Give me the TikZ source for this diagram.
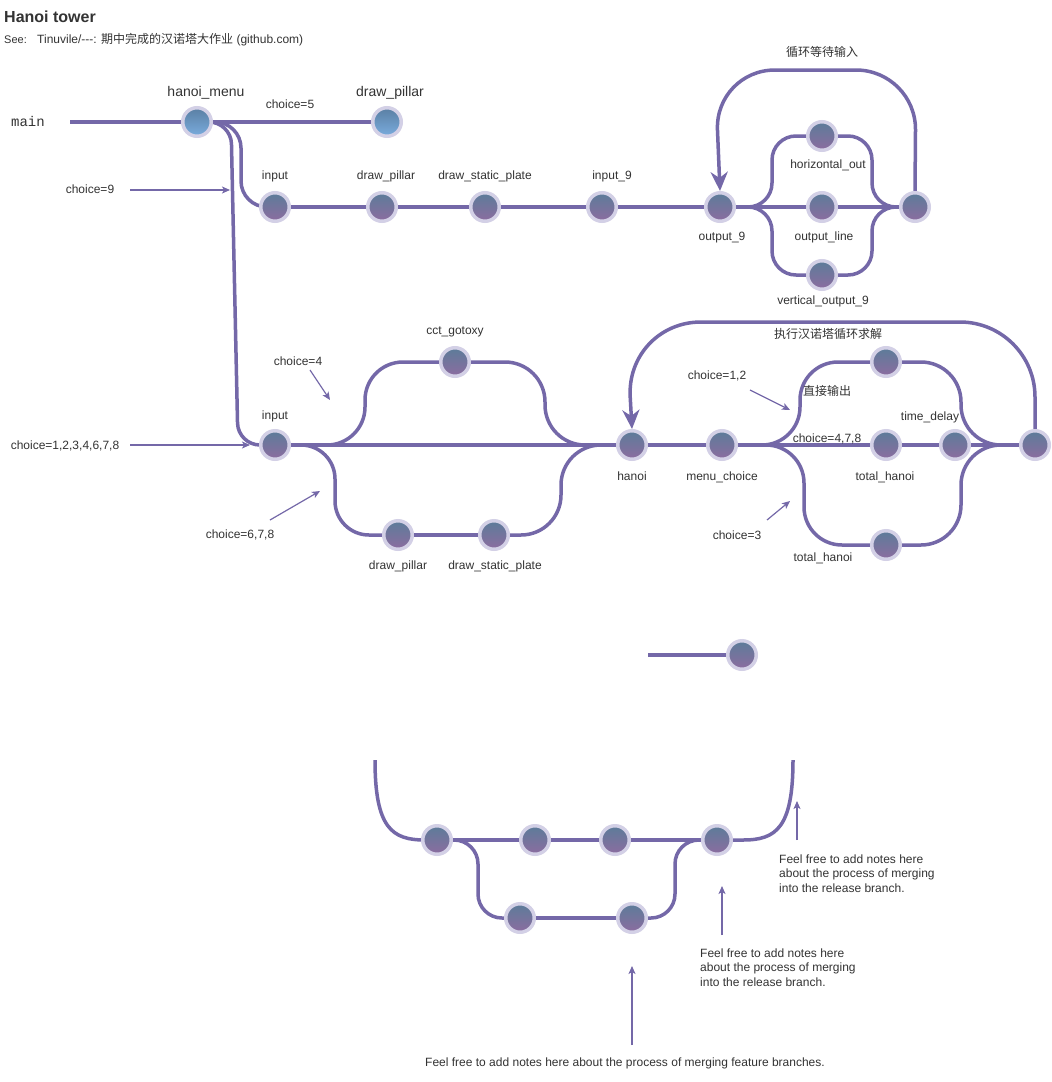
\documentclass[tikz,border=0pt]{standalone}
\usepackage{fontspec}
\setmainfont{Liberation Sans}
\newfontfamily\cjk{Noto Sans CJK SC}
\newfontfamily\codefont{Liberation Mono}
\usetikzlibrary{arrows.meta}
\pgfdeclarelayer{bg}
\pgfsetlayers{bg,main}
\definecolor{branch}{RGB}{116,104,168}
\definecolor{ring}{RGB}{211,208,230}
\definecolor{ctop}{RGB}{92,124,153}
\definecolor{cbot}{RGB}{140,108,160}
\definecolor{btop}{RGB}{90,127,163}
\definecolor{bbot}{RGB}{122,172,222}
\definecolor{ink}{RGB}{51,51,51}
\tikzset{
  commit/.style={circle, inner sep=0pt, minimum size=28.5pt, draw=ring, line width=3.5pt,
    top color=ctop, bottom color=cbot},
  bluecommit/.style={commit, top color=btop, bottom color=bbot},
  flow/.style={draw=branch, line width=3.5pt},
  loopback/.style={flow, -{Stealth[length=19pt,width=17pt,inset=6pt]}},
  note/.style={draw=branch, line width=1.2pt, -{Stealth[length=8pt,width=7pt,inset=2pt]}},
  lbl/.style={text=ink, inner sep=0pt, font=\fontsize{12}{14.5}\selectfont, text height=8.6pt, text depth=0pt},
  biglbl/.style={lbl, font=\fontsize{14}{16}\selectfont, text height=10pt},
  cjklbl/.style={lbl, font=\fontsize{12}{14.5}\selectfont\cjk},
  para/.style={text=ink, inner sep=0pt, align=left, font=\fontsize{12}{14.5}\selectfont},
}
\begin{document}
\begin{tikzpicture}[x=1pt,y=-1pt]
\useasboundingbox (0,0) rectangle (1052,1082);

% heading
\node[text=ink, inner sep=0pt, anchor=base west, font=\fontsize{16}{18}\selectfont\bfseries] (title) at (4,22.7) {Hanoi tower};
\node[text=ink, inner sep=0pt, anchor=base west, font=\fontsize{11}{12}\selectfont] (see) at (4,43.3) {See:};
\node[text=ink, inner sep=0pt, anchor=base west, font=\fontsize{12}{14}\selectfont] (link) at (37,43.3) {Tinuvile/-{}-{}-: {\cjk 期中完成的汉诺塔大作业} (github.com)};

% ---------- commits ----------
\node[bluecommit] (hm)  at (197,122) {};
\node[bluecommit] (dp0) at (387,122) {};

\node[commit] (in1)  at (275,207) {};
\node[commit] (dp1)  at (382,207) {};
\node[commit] (dsp1) at (485,207) {};
\node[commit] (in9)  at (602,207) {};
\node[commit] (out9) at (720,207) {};
\node[commit] (hz)   at (822,136) {};
\node[commit] (ol)   at (822,207) {};
\node[commit] (vo)   at (822,275) {};
\node[commit] (m9)   at (915,207) {};

\node[commit] (in2)   at (275,445) {};
\node[commit] (cct)   at (455,362) {};
\node[commit] (dp2)   at (398,535) {};
\node[commit] (dsp2)  at (494,535) {};
\node[commit] (hanoi) at (632,445) {};
\node[commit] (mc)    at (722,445) {};
\node[commit] (up)    at (886,362) {};
\node[commit] (th)    at (886,445) {};
\node[commit] (td)    at (955,445) {};
\node[commit] (th2)   at (886,545) {};
\node[commit] (mg)    at (1035,445) {};

\node[commit] (solo) at (742,655) {};

\node[commit] (b1) at (437,840) {};
\node[commit] (b2) at (535,840) {};
\node[commit] (b3) at (615,840) {};
\node[commit] (b4) at (717,840) {};
\node[commit] (b5) at (520,918) {};
\node[commit] (b6) at (632,918) {};

% free ends
\coordinate (mainstart) at (70,122);
\coordinate (solostart) at (648,655);
\coordinate (lstart) at (375,760);
\coordinate (rend) at (793,760);

% ---------- branches ----------
\begin{pgfonlayer}{bg}
\fill[white] (0,0) rectangle (1052,1082);
\draw[flow] (mainstart) -- (hm.center) -- (dp0.center);
\draw[flow, rounded corners=22] (hm.center) -- (231,122) -- (238,445) -- (in2.center);
\draw[flow, rounded corners=26] (hm.center) -- (241,122) -- (241,207) -- (in1.center);

\draw[flow] (in1.center) -- (dp1.center) -- (dsp1.center) -- (in9.center) -- (out9.center) -- (ol.center) -- (m9.center);
\draw[flow, rounded corners=24] (out9.center) -- (772,207) -- (772,136) -- (hz.center);
\draw[flow, rounded corners=24] (hz.center) -- (872,136) -- (872,207) -- (m9.center);
\draw[flow, rounded corners=24] (out9.center) -- (772,207) -- (772,275) -- (vo.center);
\draw[flow, rounded corners=24] (vo.center) -- (872,275) -- (872,207) -- (m9.center);
\draw[loopback, rounded corners=60] (m9.north) -- (916,70) -- (715,70) -- (out9.north);

\draw[flow] (in2.center) -- (hanoi.center) -- (mc.center) -- (th.center) -- (td.center) -- (mg.center);
\draw[flow, rounded corners=38] (in2.center) -- (365,445) -- (365,362) -- (cct.center);
\draw[flow, rounded corners=40] (cct.center) -- (545,362) -- (545,445) -- (hanoi.center);
\draw[flow, rounded corners=34] (in2.center) -- (335,445) -- (335,535) -- (dp2.center);
\draw[flow] (dp2.center) -- (dsp2.center);
\draw[flow, rounded corners=40] (dsp2.center) -- (561,535) -- (561,445) -- (hanoi.center);
\draw[flow, rounded corners=38] (mc.center) -- (800,445) -- (800,362) -- (up.center);
\draw[flow, rounded corners=40] (up.center) -- (961,362) -- (961,445) -- (mg.center);
\draw[flow, rounded corners=38] (mc.center) -- (804,445) -- (804,545) -- (th2.center);
\draw[flow, rounded corners=40] (th2.center) -- (961,545) -- (961,445) -- (mg.center);
\draw[loopback, rounded corners=75] (mg.north) -- (1035,322) -- (626,322) -- (hanoi.north);

\draw[flow] (solostart) -- (solo.center);

\draw[flow] (lstart) .. controls (375,828) and (392,840) .. (425,840) -- (b1.center);
\draw[flow] (b1.center) -- (b2.center) -- (b3.center) -- (b4.center);
\draw[flow] (b4.center) -- (743,840) .. controls (776,840) and (793,828) .. (rend);
\draw[flow, rounded corners=24] (b1.center) -- (478,840) -- (478,918) -- (b5.center);
\draw[flow] (b5.center) -- (b6.center);
\draw[flow, rounded corners=24] (b6.center) -- (675,918) -- (675,840) -- (b4.center);
\end{pgfonlayer}

% ---------- labels ----------
\node[text=ink, inner sep=0pt, font=\fontsize{14}{16}\selectfont\codefont] (lmain) at (28,121) {main};
\node[biglbl] (lhm) at (206,91) {hanoi\_menu};
\node[biglbl] (ldp0) at (390,91) {draw\_pillar};
\node[lbl] (c5) at (290,104) {choice=5};

\node[lbl] (lin1) at (275,175) {input};
\node[lbl] (ldp1) at (386,175) {draw\_pillar};
\node[lbl] (ldsp1) at (485,175) {draw\_static\_plate};
\node[lbl] (lin9) at (612,175) {input\_9};
\node[lbl] (lout9) at (722,236) {output\_9};
\node[lbl] (lhz) at (828,164) {horizontal\_out};
\node[lbl] (lol) at (824,236) {output\_line};
\node[lbl] (lvo) at (823,300) {vertical\_output\_9};
\node[cjklbl] (lwait) at (822,52) {循环等待输入};
\node[lbl] (c9) at (90,189) {choice=9};

\node[lbl] (c4) at (298,361) {choice=4};
\node[lbl] (lcct) at (455,330) {cct\_gotoxy};
\node[lbl] (lin2) at (275,415) {input};
\node[lbl] (call) at (65,445) {choice=1,2,3,4,6,7,8};
\node[lbl] (c678) at (240,534) {choice=6,7,8};
\node[lbl] (ldp2) at (398,565) {draw\_pillar};
\node[lbl] (ldsp2) at (495,565) {draw\_static\_plate};
\node[lbl] (lhanoi) at (632,476) {hanoi};
\node[lbl] (lmc) at (722,476) {menu\_choice};
\node[lbl] (c12) at (717,375) {choice=1,2};
\node[cjklbl] (ldirect) at (827,391) {直接输出};
\node[cjklbl] (lsolve) at (828,334) {执行汉诺塔循环求解};
\node[lbl] (ltd) at (930,416) {time\_delay};
\node[lbl] (c478) at (827,438) {choice=4,7,8};
\node[lbl] (lth) at (885,476) {total\_hanoi};
\node[lbl] (c3) at (737,535) {choice=3};
\node[lbl] (lth2) at (823,557) {total\_hanoi};

\node[para, anchor=north west] (noteA) at (779,854.5) {Feel free to add notes here\\about the process of merging\\into the release branch.};
\node[para, anchor=north west] (noteB) at (700,948.5) {Feel free to add notes here\\about the process of merging\\into the release branch.};
\node[para, anchor=base] (noteC) at (625,1066.3) {Feel free to add notes here about the process of merging feature branches.};

% ---------- pointers ----------
\coordinate (p9a) at (130,190);   \coordinate (p9b) at (230,190);
\coordinate (pAa) at (130,445);   \coordinate (pAb) at (250,445);
\coordinate (p4a) at (310,370);   \coordinate (p4b) at (330,400);
\coordinate (p6a) at (270,520);   \coordinate (p6b) at (320,491);
\coordinate (p12a) at (750,390);  \coordinate (p12b) at (790,410);
\coordinate (p3a) at (767,520);   \coordinate (p3b) at (790,501);
\coordinate (pRa) at (797,840);   \coordinate (pRb) at (797,801);
\coordinate (pQa) at (722,935);   \coordinate (pQb) at (722,886);
\coordinate (pFa) at (632,1045);  \coordinate (pFb) at (632,966);
\draw[note] (p9a) -- (p9b);
\draw[note] (pAa) -- (pAb);
\draw[note] (p4a) -- (p4b);
\draw[note] (p6a) -- (p6b);
\draw[note] (p12a) -- (p12b);
\draw[note] (p3a) -- (p3b);
\draw[note] (pRa) -- (pRb);
\draw[note] (pQa) -- (pQb);
\draw[note] (pFa) -- (pFb);
\end{tikzpicture}
\end{document}
